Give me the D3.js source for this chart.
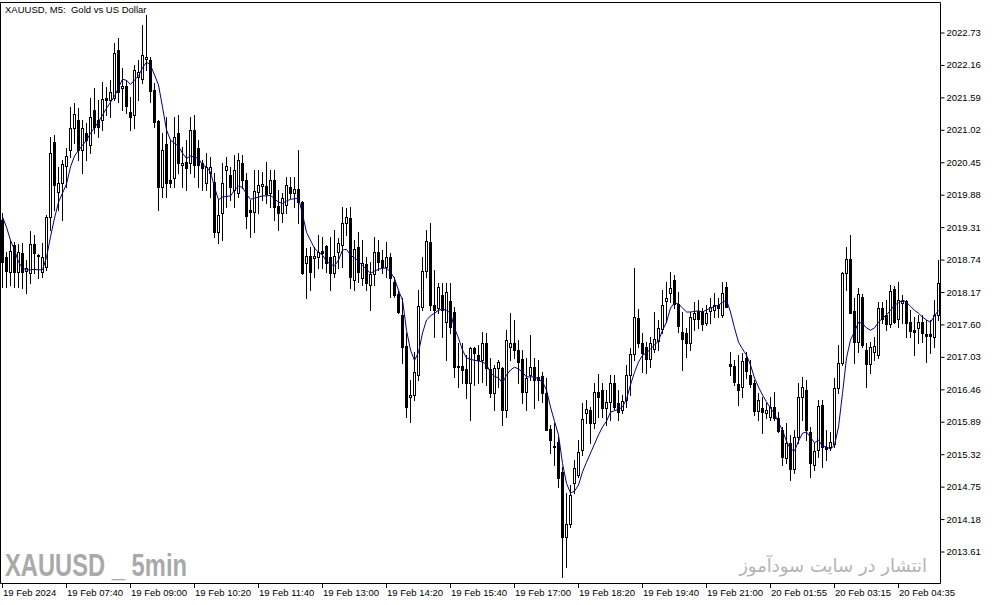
<!DOCTYPE html>
<html>
<head>
<meta charset="utf-8">
<script src="https://cdn.jsdelivr.net/npm/d3@7"></script>
<style>
  html, body { margin: 0; padding: 0; background: #ffffff; }
  svg { display: block; }
</style>
</head>
<body>
<svg id="chart" width="994" height="605"></svg>
<script>
// ---------------- DATA ----------------
const chartTitle = "XAUUSD, M5:  Gold vs US Dollar";
const watermarkLeft = "XAUUSD _ 5min";
const watermarkRight = "انتشار در سایت سودآموز";

const open = [
2019.42,2018.77,2018.51,2018.99,2018.51,2018.84,2018.53,2018.49,2019.00,2018.81,
2018.51,2018.60,2019.48,2020.79,2019.92,2020.07,2020.37,2020.65,2021.04,2021.18,
2020.65,2020.95,2020.74,2021.36,2021.18,2021.18,2021.57,2021.53,2021.57,2022.41,
2021.74,2021.78,2021.32,2021.27,2021.94,2021.90,2022.25,2022.24,2021.71,2021.16,
2020.00,2020.76,2020.13,2020.16,2020.95,2020.39,2020.44,2020.43,2021.01,2020.69,
2020.43,2020.07,2020.25,2020.09,2019.21,2019.55,2020.30,2020.22,2019.95,2019.90,
2020.43,2020.13,2019.60,2019.57,2019.92,2020.02,2020.02,2019.90,2020.13,2019.67,
2019.55,2019.69,2020.00,2019.90,2019.97,2019.74,2018.67,2018.79,2018.76,2018.77,
2018.88,2018.97,2018.77,2018.49,2018.86,2018.99,2019.37,2019.46,2018.37,2018.95,
2018.40,2018.65,2018.28,2018.47,2018.86,2018.72,2018.60,2018.77,2018.34,2018.12,
2017.76,2017.21,2016.31,2016.35,2016.70,2017.90,2018.53,2019.04,2017.93,2017.88,
2018.11,2017.63,2018.00,2017.81,2016.86,2016.86,2016.81,2016.56,2017.18,2017.05,
2016.96,2017.26,2016.81,2016.38,2016.82,2016.82,2016.09,2017.19,2017.26,2017.14,
2016.98,2016.40,2016.70,2016.84,2016.67,2016.68,2016.38,2015.75,2015.45,2015.52,
2015.00,2013.85,2014.08,2014.80,2014.94,2015.38,2016.03,2016.09,2015.86,2016.40,
2016.44,2016.12,2016.23,2016.56,2016.21,2016.09,2016.26,2016.70,2017.07,2017.70,
2017.26,2017.19,2016.98,2017.16,2017.30,2017.51,2018.00,2018.14,2018.37,2017.95,
2017.46,2017.44,2017.26,2017.69,2017.83,2017.81,2017.61,2017.83,2017.84,2017.93,
2017.76,2018.25,2016.89,2016.86,2016.54,2016.49,2017.00,2016.70,2016.56,2016.07,
2016.12,2016.03,2015.96,2016.14,2015.94,2015.73,2015.24,2015.51,2015.05,2015.61,
2016.31,2016.44,2015.70,2015.12,2015.38,2016.17,2015.44,2015.44,2015.49,2016.47,
2016.91,2018.49,2018.74,2017.83,2017.28,2018.07,2017.14,2016.89,2017.10,2017.05,
2017.88,2017.76,2017.60,2018.21,2017.69,2017.97,2018.00,2017.63,2017.49,2017.53,
2017.63,2017.42,2017.42,2017.37,2017.76];

const high = [
2019.55,2018.86,2019.07,2019.04,2019.00,2019.02,2018.72,2019.23,2019.16,2018.83,
2019.02,2019.51,2020.88,2020.92,2020.36,2020.48,2020.69,2021.41,2021.48,2021.39,
2021.18,2021.13,2021.57,2021.74,2021.53,2021.85,2021.76,2021.88,2022.53,2022.62,
2022.10,2021.88,2021.59,2022.15,2022.24,2022.85,2023.03,2022.29,2021.83,2021.18,
2020.95,2021.23,2020.83,2021.23,2021.27,2020.71,2020.83,2021.23,2021.27,2020.83,
2020.48,2020.60,2020.53,2020.25,2019.78,2020.43,2020.53,2020.36,2020.57,2020.60,
2020.57,2020.25,2019.78,2020.30,2020.30,2020.27,2020.44,2020.30,2020.30,2019.95,
2019.90,2020.18,2020.18,2020.18,2020.65,2019.76,2018.93,2018.95,2018.95,2019.16,
2019.13,2018.99,2019.13,2019.25,2019.11,2019.65,2019.63,2019.65,2019.07,2019.21,
2019.07,2018.77,2018.69,2019.13,2019.07,2018.90,2019.04,2018.84,2018.42,2018.19,
2018.05,2017.44,2016.61,2017.10,2018.19,2018.77,2019.25,2019.37,2018.55,2018.32,
2018.32,2018.32,2018.32,2017.90,2017.26,2017.26,2017.05,2017.19,2017.19,2017.23,
2017.46,2017.44,2017.00,2016.88,2016.96,2016.84,2017.49,2017.79,2017.67,2017.32,
2017.14,2017.00,2017.40,2017.00,2016.96,2016.75,2016.65,2015.82,2015.86,2015.61,
2015.08,2014.63,2014.77,2015.21,2015.56,2016.21,2016.26,2016.14,2016.56,2016.72,
2016.56,2016.44,2016.70,2016.70,2016.44,2016.35,2016.88,2017.18,2018.58,2017.86,
2017.44,2017.28,2017.37,2017.81,2017.67,2018.19,2018.34,2018.51,2018.46,2018.16,
2017.81,2017.53,2017.81,2017.98,2018.02,2017.88,2017.93,2018.05,2018.14,2018.05,
2018.34,2018.34,2017.10,2016.96,2017.05,2017.09,2017.10,2016.96,2016.61,2016.38,
2016.31,2016.21,2016.31,2016.40,2016.05,2015.79,2015.86,2015.65,2015.73,2016.56,
2016.67,2016.61,2015.79,2015.51,2016.26,2016.26,2015.73,2015.70,2016.65,2017.23,
2018.51,2018.95,2019.16,2018.05,2018.23,2018.12,2017.26,2017.28,2017.37,2017.98,
2017.98,2018.02,2018.28,2018.27,2018.34,2018.11,2018.02,2017.84,2017.72,2017.76,
2017.76,2017.67,2017.67,2018.02,2018.72];

const low = [
2018.25,2018.25,2018.28,2018.25,2018.25,2018.23,2018.14,2018.32,2018.49,2018.40,
2018.42,2018.55,2019.25,2019.60,2019.60,2019.42,2020.00,2020.53,2020.78,2020.48,
2020.25,2020.48,2020.60,2020.95,2020.88,2021.01,2021.27,2021.23,2021.53,2021.50,
2021.36,2021.30,2021.01,2021.04,2021.53,2021.83,2022.06,2021.50,2021.06,2019.60,
2019.83,2019.83,2020.00,2020.00,2020.25,2020.00,2019.95,2020.25,2020.18,2020.00,
2019.95,2019.95,2019.83,2019.13,2019.02,2019.07,2019.65,2019.78,2019.65,2019.83,
2019.99,2019.28,2019.13,2019.21,2019.55,2019.78,2019.72,2019.65,2019.42,2019.25,
2019.39,2019.55,2019.81,2019.65,2019.37,2018.47,2018.05,2018.19,2018.42,2018.58,
2018.58,2018.51,2018.19,2018.42,2018.58,2018.60,2019.16,2018.23,2018.19,2018.34,
2018.28,2018.19,2017.84,2018.28,2018.55,2018.49,2018.42,2018.07,2018.07,2017.79,
2016.91,2015.96,2015.87,2016.26,2016.61,2017.84,2018.42,2017.84,2017.37,2017.79,
2017.37,2016.96,2017.44,2016.67,2016.49,2016.56,2016.30,2015.91,2016.53,2016.56,
2016.58,2016.53,2016.31,2016.09,2016.49,2015.82,2015.96,2016.96,2017.00,2016.56,
2016.21,2016.09,2016.61,2016.12,2016.26,2016.23,2015.73,2015.33,2015.12,2014.74,
2013.15,2013.33,2014.03,2014.63,2014.91,2015.30,2015.86,2015.51,2015.77,2015.96,
2015.96,2015.82,2015.91,2016.10,2015.91,2016.03,2016.14,2016.35,2016.96,2017.19,
2016.75,2016.74,2016.84,2017.10,2017.14,2017.44,2017.63,2017.98,2017.88,2017.46,
2016.79,2017.02,2017.14,2017.49,2017.53,2017.49,2017.58,2017.61,2017.72,2017.72,
2017.72,2017.90,2016.70,2016.53,2016.17,2016.31,2016.65,2016.49,2016.00,2015.91,
2015.68,2015.94,2015.91,2015.91,2015.70,2015.12,2015.15,2014.86,2014.98,2015.51,
2015.91,2015.56,2014.91,2015.03,2015.26,2015.08,2015.21,2015.38,2015.44,2016.38,
2016.88,2018.19,2017.79,2016.91,2017.10,2017.19,2016.49,2016.74,2016.96,2017.00,
2017.61,2017.49,2017.54,2017.61,2017.54,2017.61,2017.37,2017.37,2017.05,2017.26,
2017.28,2016.93,2017.09,2017.19,2017.67];

const close = [
2018.69,2018.53,2018.88,2018.51,2018.86,2018.51,2018.58,2019.00,2018.84,2018.79,
2018.77,2019.48,2020.60,2020.04,2020.07,2020.41,2020.55,2021.04,2021.29,2020.65,
2021.04,2020.83,2021.23,2021.06,2021.06,2021.55,2021.53,2021.67,2022.36,2021.67,
2021.78,2021.43,2021.23,2022.06,2022.03,2022.32,2022.29,2021.69,2021.15,2020.00,
2020.65,2020.07,2020.07,2020.88,2020.43,2020.43,2020.34,2021.01,2020.39,2020.39,
2020.34,2020.36,2020.36,2019.21,2019.51,2020.07,2020.37,2020.00,2020.30,2020.48,
2020.13,2019.50,2019.57,2019.93,2020.04,2020.06,2019.88,2020.13,2019.65,2019.55,
2019.81,2020.04,2019.90,2019.97,2019.74,2018.49,2018.79,2018.51,2018.79,2018.86,
2018.84,2018.67,2018.49,2018.79,2019.02,2019.37,2019.48,2018.42,2018.91,2018.51,
2018.67,2018.32,2018.47,2018.86,2018.69,2018.60,2018.77,2018.40,2018.11,2017.81,
2017.19,2016.14,2016.35,2016.75,2017.91,2018.53,2019.06,2017.93,2017.84,2018.25,
2017.84,2018.16,2017.54,2016.84,2016.84,2016.79,2016.56,2017.18,2017.09,2016.96,
2017.26,2016.82,2016.38,2016.82,2016.93,2016.09,2017.32,2017.26,2017.14,2016.93,
2016.40,2016.65,2016.84,2016.61,2016.61,2016.38,2015.73,2015.56,2015.44,2014.89,
2013.85,2014.08,2014.59,2015.07,2015.35,2015.93,2016.10,2015.86,2016.40,2016.31,
2016.12,2016.23,2016.56,2016.14,2016.05,2016.24,2016.70,2017.07,2017.72,2017.26,
2017.09,2016.98,2017.26,2017.33,2017.53,2017.93,2018.05,2018.23,2017.95,2017.56,
2017.33,2017.26,2017.72,2017.79,2017.69,2017.60,2017.79,2017.90,2017.93,2017.88,
2018.14,2017.90,2016.86,2016.58,2016.44,2016.95,2016.77,2016.54,2016.07,2016.26,
2016.05,2016.09,2016.14,2015.94,2015.72,2015.26,2015.51,2015.05,2015.61,2016.31,
2016.49,2015.73,2015.15,2015.37,2016.16,2015.44,2015.40,2015.52,2016.47,2016.91,
2018.49,2018.74,2017.79,2017.28,2018.12,2017.23,2016.89,2017.19,2017.21,2017.88,
2017.69,2017.60,2018.18,2017.63,2018.02,2018.00,2017.61,2017.47,2017.46,2017.63,
2017.44,2017.39,2017.39,2017.76,2018.32];

// moving average line, bar index + value
const maBar = [0,1,2,3,4,5,6,7,8,9,10,11,12,13,14,16,17,18,19,21,
22,24,26,28,30,31,32,34,35,36,37,39,40,41,42,44,45,46,47,49,
50,51,52,53,54,55,57,58,59,60,61,62,63,65,66,67,69,70,71,72,
74,75,76,78,79,80,81,82,83,84,85,86,87,88,89,91,92,93,94,95,
96,97,98,99,100,101,102,103,104,105,106,107,109,110,111,112,113,114,115,116,
118,119,120,121,122,123,124,125,126,127,128,129,130,131,132,133,134,135,136,137,
138,139,140,141,142,143,144,145,146,147,149,150,151,152,154,155,156,157,158,159,
160,161,162,164,165,166,167,168,169,170,171,172,174,175,177,179,180,181,182,183,
184,185,186,187,188,189,190,191,192,193,194,195,196,197,198,199,200,201,202,203,
204,205,206,207,208,209,210,211,212,213,214,215,216,217,218,219,220,221,222,223,
224,225,226,227,228,229,230,231,232,233,234];
const maValue = [2019.48,2019.30,2019.07,2018.90,2018.69,2018.58,2018.55,2018.55,2018.56,2018.55,2018.55,2018.77,2019.13,2019.46,2019.74,2020.06,2020.36,2020.55,2020.65,2020.83,
2020.95,2021.15,2021.39,2021.60,2021.90,2021.88,2021.81,2021.96,2022.10,2022.20,2022.15,2021.80,2021.41,2021.01,2020.83,2020.72,2020.60,2020.51,2020.55,2020.51,
2020.39,2020.36,2020.27,2020.00,2019.78,2019.83,2019.85,2019.95,2020.02,2020.00,2019.88,2019.79,2019.81,2019.85,2019.85,2019.86,2019.74,2019.72,2019.76,2019.79,
2019.81,2019.53,2019.21,2018.93,2018.86,2018.81,2018.70,2018.65,2018.62,2018.72,2018.90,2018.91,2018.81,2018.76,2018.70,2018.56,2018.49,2018.53,2018.56,2018.58,
2018.58,2018.51,2018.40,2018.19,2018.02,2017.49,2017.14,2016.96,2017.10,2017.44,2017.67,2017.74,2017.84,2017.86,2017.84,2017.79,2017.53,2017.35,2017.14,2017.00,
2016.96,2016.95,2016.93,2016.89,2016.74,2016.68,2016.65,2016.56,2016.70,2016.79,2016.84,2016.81,2016.75,2016.67,2016.67,2016.67,2016.63,2016.58,2016.44,2016.14,
2015.89,2015.65,2015.15,2014.80,2014.63,2014.66,2014.77,2015.00,2015.17,2015.33,2015.65,2015.79,2015.89,2016.05,2016.10,2016.14,2016.28,2016.53,2016.75,2016.93,
2017.05,2017.09,2017.16,2017.30,2017.49,2017.63,2017.88,2017.97,2017.95,2017.88,2017.81,2017.81,2017.83,2017.81,2017.88,2017.93,2017.98,2018.02,2017.81,2017.53,
2017.28,2017.16,2017.05,2016.88,2016.65,2016.49,2016.35,2016.23,2016.12,2016.02,2015.87,2015.73,2015.54,2015.40,2015.37,2015.54,2015.68,2015.70,2015.61,2015.51,
2015.56,2015.45,2015.44,2015.40,2015.47,2015.79,2016.38,2017.00,2017.32,2017.46,2017.63,2017.61,2017.53,2017.49,2017.53,2017.63,2017.70,2017.76,2017.84,2017.93,
2017.97,2018.02,2017.98,2017.91,2017.84,2017.79,2017.72,2017.67,2017.63,2017.74,2017.84];

const priceTicks = [2022.73,2022.16,2021.59,2021.02,2020.45,2019.88,2019.31,2018.74,2018.17,2017.60,2017.03,2016.46,2015.89,2015.32,2014.75,2014.18,2013.61];
const timeTickBars = [0,16,32,48,64,80,96,112,128,144,160,176,192,208,224];
const timeTickLabels = ["19 Feb 2024","19 Feb 07:40","19 Feb 09:00","19 Feb 10:20","19 Feb 11:40","19 Feb 13:00","19 Feb 14:20","19 Feb 15:40","19 Feb 17:00","19 Feb 18:20","19 Feb 19:40","19 Feb 21:00","20 Feb 01:55","20 Feb 03:15","20 Feb 04:35"];

// ---------------- DRAW ----------------
const svg = d3.select("#chart");
const W = 994, H = 605;
const plotRight = 940, plotBottom = 583, plotTop = 2, plotLeft = 0;
const uiFont = "'Liberation Sans', Arial, sans-serif";

svg.append("rect").attr("width", W).attr("height", H).attr("fill", "#ffffff");

const x = d3.scaleLinear().domain([0, open.length - 1]).range([2, 938]);
const y = d3.scaleLinear().domain([2013.61, 2022.73]).range([551, 32]);

const px = i => Math.round(x(i));
const py = v => Math.round(y(v));

const plot = svg.append("g");

// wicks
const idx = d3.range(open.length);
plot.selectAll("line.wick").data(idx).join("line")
  .attr("class", "wick")
  .attr("x1", i => px(i) + 0.5).attr("x2", i => px(i) + 0.5)
  .attr("y1", i => py(high[i])).attr("y2", i => py(low[i]) + 1)
  .attr("stroke", "#000").attr("stroke-width", 1);

// bodies
plot.selectAll("rect.body").data(idx).join("rect")
  .attr("class", "body")
  .each(function(i) {
    const up = close[i] >= open[i];
    const top = py(Math.max(open[i], close[i]));
    const bot = py(Math.min(open[i], close[i]));
    const s = d3.select(this);
    if (up) {
      s.attr("x", px(i) - 0.5).attr("y", top + 0.5)
       .attr("width", 2).attr("height", Math.max(bot - top, 0))
       .attr("fill", "#fff").attr("stroke", "#000").attr("stroke-width", 1);
    } else {
      s.attr("x", px(i) - 1).attr("y", top)
       .attr("width", 3).attr("height", Math.max(bot - top + 1, 1))
       .attr("fill", "#000");
    }
  });

// moving average
const maLine = d3.line().x((d, j) => x(maBar[j]) + 0.5).y(d => y(d));
plot.append("path").datum(maValue)
  .attr("d", maLine).attr("fill", "none")
  .attr("stroke", "#00008b").attr("stroke-width", 1);

// frame
svg.append("path")
  .attr("d", `M${plotLeft + 0.5},${plotTop + 0.5}H${plotRight + 0.5}V${plotBottom + 0.5}H${plotLeft + 0.5}Z`)
  .attr("fill", "none").attr("stroke", "#000").attr("stroke-width", 1);

// right price axis
const yAxis = d3.axisRight(y).tickValues(priceTicks).tickSize(4).tickPadding(2)
  .tickFormat(d3.format(".2f"));
const gy = svg.append("g").attr("transform", `translate(${plotRight + 0.5},0.5)`).call(yAxis);
gy.select(".domain").remove();
gy.selectAll("line").attr("stroke", "#000");
gy.selectAll("text").attr("font-family", uiFont).attr("font-size", "9.5px").attr("fill", "#000");

// bottom time axis
const xt = svg.append("g");
xt.selectAll("line").data(timeTickBars).join("line")
  .attr("x1", b => px(b) + 0.5).attr("x2", b => px(b) + 0.5)
  .attr("y1", plotBottom).attr("y2", plotBottom + 5)
  .attr("stroke", "#000");
xt.selectAll("text").data(timeTickBars).join("text")
  .attr("x", b => px(b) + 1).attr("y", 596)
  .attr("font-family", uiFont).attr("font-size", "9.5px").attr("fill", "#000")
  .text((b, j) => timeTickLabels[j]);

// title
svg.append("text").attr("x", 5).attr("y", 13)
  .attr("font-family", uiFont).attr("font-size", "9.5px").attr("fill", "#000")
  .attr("xml:space", "preserve")
  .text(chartTitle);

// watermarks
svg.append("text").attr("x", 5).attr("y", 576)
  .attr("font-family", "'Liberation Sans Narrow', 'Liberation Sans', sans-serif")
  .attr("font-weight", "bold").attr("font-size", "32px")
  .attr("fill", "#a9a9a9")
  .attr("textLength", 182).attr("lengthAdjust", "spacingAndGlyphs")
  .text(watermarkLeft);

svg.append("text").attr("x", 927).attr("y", 572)
  .attr("text-anchor", "end")
  .attr("font-family", "'DejaVu Sans', sans-serif").attr("font-size", "18px")
  .attr("fill", "#b4b4b4")
  .text(watermarkRight);
</script>
</body>
</html>
